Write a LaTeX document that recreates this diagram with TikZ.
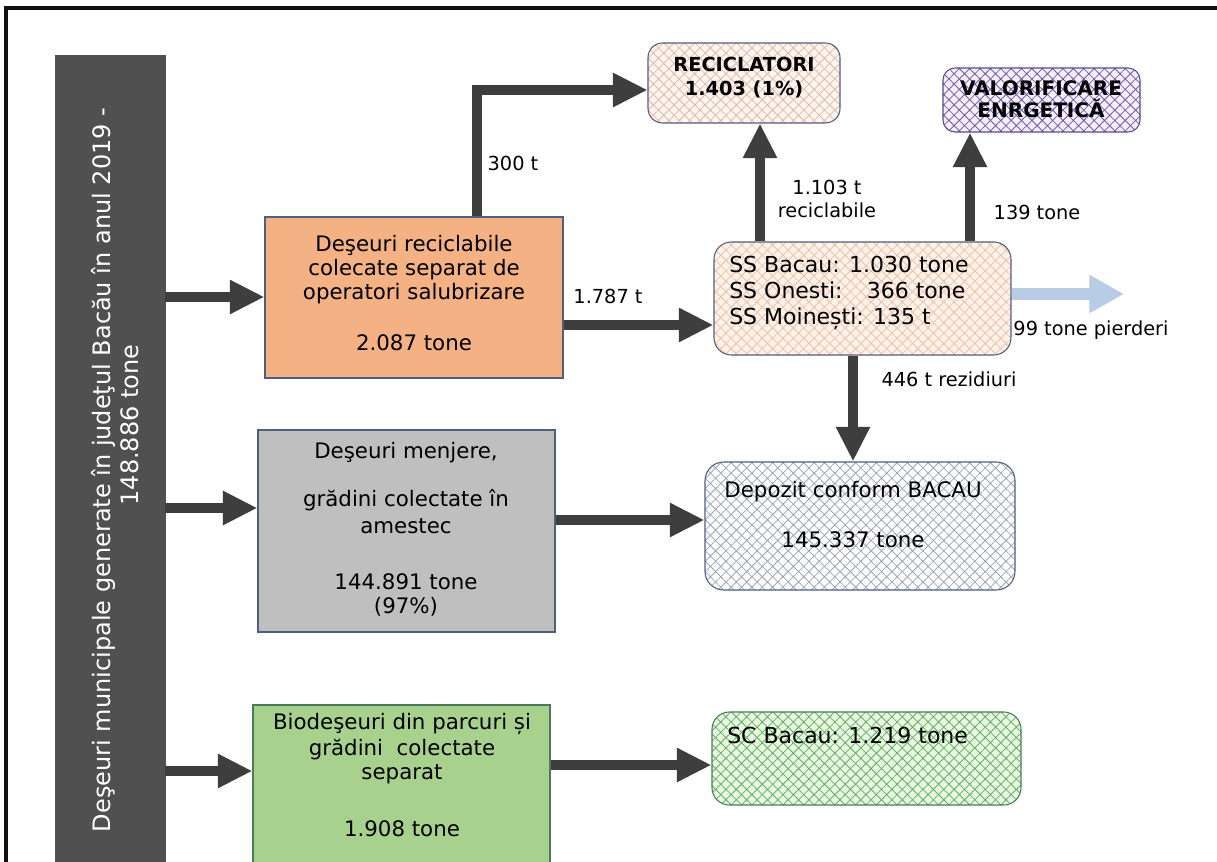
\documentclass[tikz,border=0pt]{standalone}
\usepackage{fontspec}
\setmainfont{DejaVu Sans}
\usetikzlibrary{arrows.meta,patterns.meta,fit}

\definecolor{framecol}{HTML}{111111}
\definecolor{barfill}{HTML}{505050}
\definecolor{arrowgray}{HTML}{3E3E3E}
\definecolor{lossblue}{HTML}{B9CCE5}
\definecolor{orangefill}{HTML}{F4B183}
\definecolor{grayfill}{HTML}{BFBFBF}
\definecolor{greenfill}{HTML}{A9D18E}
\definecolor{boxedge}{HTML}{4F5F7F}
\definecolor{recbg}{HTML}{FFF6EE}
\definecolor{rechatch}{HTML}{E3B6AE}
\definecolor{valbg}{HTML}{F5F0FF}
\definecolor{valhatch}{HTML}{7458AA}
\definecolor{valedge}{HTML}{5B4B8C}
\definecolor{ssbg}{HTML}{FFF3E8}
\definecolor{sshatch}{HTML}{EDBFAE}
\definecolor{depbg}{HTML}{FFFFFF}
\definecolor{dephatch}{HTML}{9DA6B8}
\definecolor{scbg}{HTML}{EAF7E2}
\definecolor{schatch}{HTML}{5DB35D}
\definecolor{scedge}{HTML}{4C7A5C}

\begin{document}
\begin{tikzpicture}[x=0.75pt,y=-0.75pt,
  plainbox/.style={draw=boxedge, line width=0.8pt, inner sep=0pt},
  hatchbox/.style 2 args={draw=#1, line width=0.8pt, inner sep=0pt,
    rounded corners=11pt, preaction={fill=#2}},
  hatchlines/.style={pattern={Hatch[angle=45,distance=5.5pt,line width=0.6pt]}, pattern color=#1},
  boxtext/.style={align=center, font=\fontsize{16}{18}\selectfont, inner sep=0pt},
  lbl/.style={align=center, font=\fontsize{14.5}{17.5}\selectfont, inner sep=0pt},
  arr/.style={draw=arrowgray, line width=7.5pt, line join=miter,
    -{Triangle[length=26pt,width=24pt]}},
  lossarr/.style={draw=lossblue, line width=9pt,
    -{Triangle[length=26pt,width=27pt]}}
]
\useasboundingbox (0,0) rectangle (1217,862);
\fill[white] (0,0) rectangle (1217,862);

% outer frame (top and left edges)
\draw[framecol, line width=2.5pt] (6,870) -- (6,8) -- (1220,8);

% source bar with rotated caption
\node[fill=barfill, draw=barfill, inner sep=0pt, fit={(55,55) (165,875)}] (src) {};
\node[white, rotate=90, font=\fontsize{18}{21}\selectfont, inner sep=0pt] (srcline1) at (103,470)
  {Deşeuri municipale generate în judeţul Bacău în anul 2019 -};
\node[white, rotate=90, font=\fontsize{18}{21}\selectfont, inner sep=0pt] (srcline2) at (130,425)
  {148.886 tone};

% collection streams
\node[plainbox, fill=orangefill, fit={(265,217) (563,378)}] (orange) {};
\node[boxtext] (orangetxt) at (414,293)
  {Deşeuri reciclabile\\colecate separat de\\operatori salubrizare\\[20pt]2.087 tone};

\node[plainbox, fill=grayfill, fit={(258,430) (555,632)}] (gray) {};
\node[boxtext] (graytxt) at (406,529)
  {Deşeuri menjere,\\[18pt]grădini colectate în\\[2pt]amestec\\[24pt]144.891 tone\\(97\%)};

\node[plainbox, draw=scedge, fill=greenfill, fit={(253,705) (550,875)}] (green) {};
\node[boxtext] (greentxt) at (402,775)
  {Biodeşeuri din parcuri și\\[1.5pt]grădini~ colectate\\separat\\[25pt]1.908 tone};

% destinations
\node[hatchbox={boxedge}{recbg}, hatchlines=rechatch, fit={(648,43) (840,123)}] (recic) {};
\node[boxtext, font=\bfseries\fontsize{14.5}{18}\selectfont] (recictxt) at (744,78)
  {RECICLATORI\\1.403 (1\%)};

\node[hatchbox={valedge}{valbg}, hatchlines=valhatch, rounded corners=9pt, fit={(943,68) (1140,132)}] (val) {};
\node[boxtext, font=\bfseries\fontsize{15}{16.5}\selectfont] (valtxt) at (1041,99)
  {VALORIFICARE\\ENRGETICĂ};

\node[hatchbox={boxedge}{ssbg}, hatchlines=sshatch, rounded corners=13pt, fit={(714,242) (1011,355)}] (ss) {};
\node[boxtext, align=left, anchor=west, font=\fontsize{16.5}{19.5}\selectfont] (sstxt) at (729,293)
  {SS Bacau: 1.030 tone\\SS Onesti:\hspace{1.1em}366 tone\\SS Moinești: 135 t};

\node[hatchbox={boxedge}{depbg}, hatchlines=dephatch, rounded corners=14pt, fit={(705,462) (1015,590)}] (dep) {};
\node[boxtext] (deptxt) at (853,515)
  {Depozit conform BACAU\\[19.5pt]145.337 tone};

\node[hatchbox={scedge}{scbg}, hatchlines=schatch, rounded corners=13pt, fit={(712,712) (1021,805)}] (sc) {};
\node[boxtext, anchor=west, font=\fontsize{16.5}{19.5}\selectfont] (sctxt) at (727,735)
  {SC Bacau: 1.219 tone};

% guide coordinates for the connector lines
\coordinate (yA) at (0,297);
\coordinate (yB) at (0,508);
\coordinate (yC) at (0,771);
\coordinate (yRec) at (0,90);
\coordinate (yToSS) at (0,325);
\coordinate (yToDep) at (0,520);
\coordinate (yToSC) at (0,765);
\coordinate (yLoss) at (0,294);
\coordinate (xUp) at (477,0);
\coordinate (xRec) at (760,0);
\coordinate (xVal) at (970,0);
\coordinate (xDep) at (853,0);
\coordinate (lossend) at (1124,294);

% connectors
\draw[arr] (src.east |- yA) -- (orange.west |- yA);
\draw[arr] (src.east |- yB) -- (gray.west |- yB);
\draw[arr] (src.east |- yC) -- (green.west |- yC);
\draw[arr] (orange.north -| xUp) |- (recic.west |- yRec);
\draw[arr] (orange.east |- yToSS) -- (ss.west |- yToSS);
\draw[arr] (ss.north -| xRec) -- (recic.south -| xRec);
\draw[arr] (ss.north -| xVal) -- (val.south -| xVal);
\draw[arr] (ss.south -| xDep) -- (dep.north -| xDep);
\draw[arr] (gray.east |- yToDep) -- (dep.west |- yToDep);
\draw[arr] (green.east |- yToSC) -- (sc.west |- yToSC);
\draw[lossarr] (ss.east |- yLoss) -- (lossend);

% flow labels
\node[lbl] (l300) at (513,163) {300 t};
\node[lbl] (l1787) at (608,296) {1.787 t};
\node[lbl] (l1103) at (827,199) {1.103 t\\reciclabile};
\node[lbl] (l139) at (1037,212) {139 tone};
\node[lbl] (l446) at (949,379) {446 t rezidiuri};
\node[lbl] (l99) at (1091,330) {99 tone pierderi};
\end{tikzpicture}
\end{document}
